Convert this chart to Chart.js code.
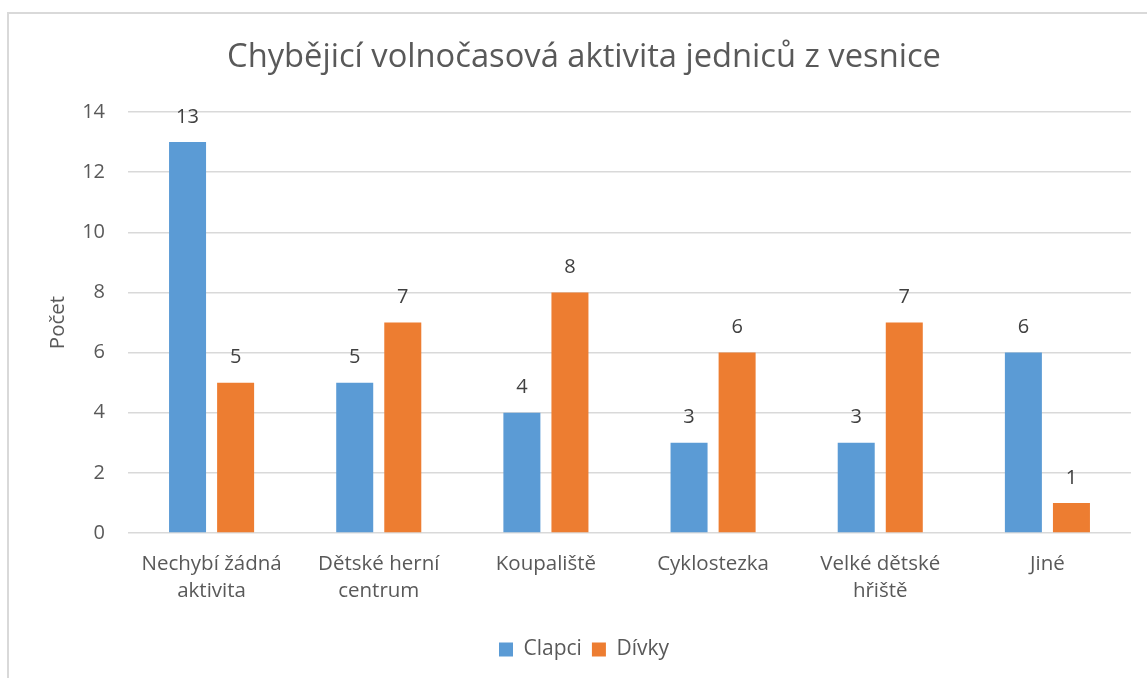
<!DOCTYPE html>
<html>
<head>
<meta charset="utf-8">
<script src="https://cdn.jsdelivr.net/npm/chart.js@4"></script>
<style>
  html, body { margin: 0; padding: 0; background: #fff; overflow: hidden; }
  #frame { position: absolute; left: 7px; top: 12px; width: 1300px; height: 800px; border: 2px solid #d9d9d9; }
  #chart { position: absolute; left: 0; top: 0; }
</style>
</head>
<body>
<div id="frame"></div>
<canvas id="chart" width="1147" height="678"></canvas>
<script>
const chartTitle = 'Chybějicí volnočasová aktivita jedniců z vesnice';
const categories = [['Nechybí žádná', 'aktivita'], ['Dětské herní', 'centrum'], 'Koupaliště', 'Cyklostezka', ['Velké dětské', 'hřiště'], 'Jiné'];
const clapci = [13, 5, 4, 3, 3, 6];
const divky = [5, 7, 8, 6, 7, 1];
const yMin = 0, yMax = 14, yStep = 2;

const FONT = '"Open Sans", sans-serif';
const TEXT = '#595959';

// value labels above each bar
const valueLabels = {
  id: 'valueLabels',
  afterDatasetsDraw(chart){
    const ctx = chart.ctx;
    ctx.save();
    ctx.font = '20px ' + FONT;
    ctx.fillStyle = '#404040';
    ctx.textAlign = 'center';
    ctx.textBaseline = 'middle';
    chart.data.datasets.forEach((ds, i) => {
      chart.getDatasetMeta(i).data.forEach((bar, j) => {
        ctx.fillText(ds.data[j], bar.x, bar.y - 25);
      });
    });
    ctx.restore();
  }
};

new Chart(document.getElementById('chart'), {
  type: 'bar',
  data: {
    labels: categories,
    datasets: [
      { label: 'Clapci', data: clapci, backgroundColor: '#5B9BD5' },
      { label: 'Dívky', data: divky, backgroundColor: '#ED7D31' }
    ]
  },
  options: {
    responsive: false,
    animation: false,
    categoryPercentage: 0.575,
    barPercentage: 0.77,
    layout: { padding: { left: 37, right: 16, top: 0, bottom: 8 } },
    scales: {
      x: {
        grid: { display: false },
        border: { display: false },
        ticks: { color: TEXT, font: { family: FONT, size: 20.5, lineHeight: 1.32 }, padding: 10, maxRotation: 0 },
        afterFit: s => { s.height = 96; }
      },
      y: {
        min: yMin, max: yMax,
        ticks: { stepSize: yStep, color: TEXT, font: { family: FONT, size: 20 }, padding: 23 },
        grid: { color: '#d9d9d9', lineWidth: 1.5, drawTicks: false },
        border: { display: false },
        title: { display: true, text: 'Počet', color: TEXT, font: { family: FONT, size: 20.5 }, padding: { top: 9, bottom: 0 } },
        afterFit: s => { s.width = 91; }
      }
    },
    plugins: {
      title: {
        display: true, text: chartTitle, color: TEXT,
        font: { family: FONT, size: 32.7, weight: 'normal', lineHeight: 1.2 },
        padding: { top: 38.4, bottom: 34.4 }
      },
      legend: {
        position: 'bottom',
        labels: { color: TEXT, font: { family: FONT, size: 21 }, boxWidth: 14, boxHeight: 14, padding: 10 }
      },
      tooltip: { enabled: false }
    }
  },
  plugins: [valueLabels]
});
</script>
</body>
</html>
